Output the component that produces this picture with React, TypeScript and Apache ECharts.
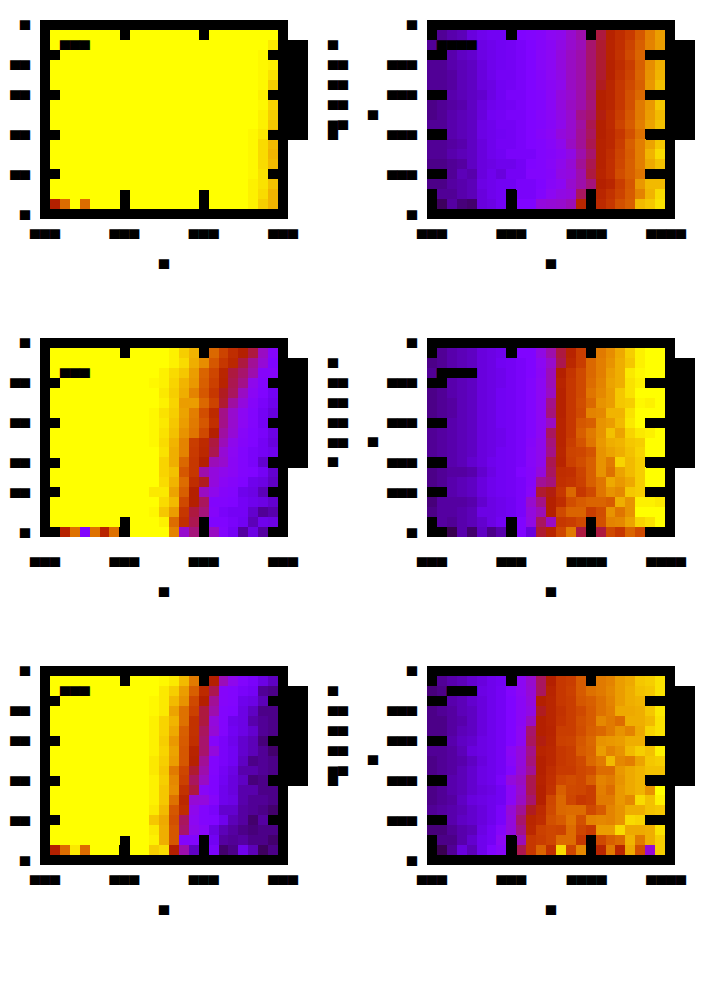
import React, { useEffect, useRef } from "react";
import * as echarts from "echarts";

const Y = 100;
// Colour scale stops (dark violet -> red -> yellow)
const scaleColors = ["#000000","#390050","#510096","#6301ce","#7202f3","#8004ff","#8c07f3","#970bce","#a11096","#ab1750","#b42000","#bd2a00","#c63700","#ce4600","#d55700","#dd6c00","#e48300","#eb9d00","#f2ba00","#f9db00","#ffff00"];

// Each panel: rows top to bottom, 24 columns left to right.
const panelA = [
[0,Y,Y,Y,Y,Y,Y,Y,Y,Y,Y,Y,Y,Y,Y,Y,Y,Y,Y,Y,Y,Y,Y,Y],
[0,Y,Y,Y,Y,Y,Y,Y,Y,Y,Y,Y,Y,Y,Y,Y,Y,Y,Y,Y,Y,Y,Y,97],
[0,Y,Y,Y,Y,Y,Y,Y,Y,Y,Y,Y,Y,Y,Y,Y,Y,Y,Y,Y,Y,Y,99,97],
[0,Y,Y,Y,Y,Y,Y,Y,Y,Y,Y,Y,Y,Y,Y,Y,Y,Y,Y,Y,Y,Y,99,98],
[0,Y,Y,Y,Y,Y,Y,Y,Y,Y,Y,Y,Y,Y,Y,Y,Y,Y,Y,Y,Y,Y,99,96],
[0,Y,Y,Y,Y,Y,Y,Y,Y,Y,Y,Y,Y,Y,Y,Y,Y,Y,Y,Y,Y,Y,99,93],
[0,Y,Y,Y,Y,Y,Y,Y,Y,Y,Y,Y,Y,Y,Y,Y,Y,Y,Y,Y,Y,Y,98,94],
[0,Y,Y,Y,Y,Y,Y,Y,Y,Y,Y,Y,Y,Y,Y,Y,Y,Y,Y,Y,Y,Y,99,94],
[0,Y,Y,Y,Y,Y,Y,Y,Y,Y,Y,Y,Y,Y,Y,Y,Y,Y,Y,Y,Y,Y,98,93],
[0,Y,Y,Y,Y,Y,Y,Y,Y,Y,Y,Y,Y,Y,Y,Y,Y,Y,Y,Y,Y,Y,98,92],
[0,Y,Y,Y,Y,Y,Y,Y,Y,Y,Y,Y,Y,Y,Y,Y,Y,Y,Y,Y,Y,99,97,90],
[0,Y,Y,Y,Y,Y,Y,Y,Y,Y,Y,Y,Y,Y,Y,Y,Y,Y,Y,Y,Y,99,95,90],
[0,Y,Y,Y,Y,Y,Y,Y,Y,Y,Y,Y,Y,Y,Y,Y,Y,Y,Y,Y,Y,99,95,89],
[0,Y,Y,Y,Y,Y,Y,Y,Y,Y,Y,Y,Y,Y,Y,Y,Y,Y,Y,Y,Y,99,95,90],
[0,Y,Y,Y,Y,Y,Y,Y,Y,Y,Y,Y,Y,Y,Y,Y,Y,Y,Y,Y,Y,99,96,91],
[0,Y,Y,Y,Y,Y,Y,Y,Y,Y,Y,Y,Y,Y,Y,Y,Y,Y,Y,Y,Y,98,96,91],
[0,Y,Y,Y,Y,Y,Y,Y,Y,Y,Y,Y,Y,Y,Y,Y,Y,Y,Y,Y,Y,98,95,89],
[0,50,75,Y,75,Y,Y,Y,Y,Y,Y,Y,Y,Y,Y,Y,Y,Y,Y,Y,Y,98,93,89],
];

const panelB = [
[0,10,12,13,17,19,20,20,0,25,26,27,30,31,35,38,0,46,51,56,61,70,79,85],
[10,10,12,13,15,18,19,20,21,23,25,27,29,32,35,37,43,47,52,57,64,72,80,85],
[0,0,12,14,15,18,19,20,21,23,25,28,30,33,36,38,43,47,52,58,66,73,0,0],
[10,10,12,13,14,17,19,20,21,23,25,28,30,33,36,38,43,47,51,56,62,72,82,88],
[10,10,11,13,14,17,19,21,21,23,25,27,30,32,36,38,43,47,51,58,64,73,83,89],
[10,10,11,13,14,17,18,20,21,23,25,27,29,31,36,38,42,48,53,60,66,72,84,91],
[0,0,12,13,14,15,18,20,23,23,25,26,29,33,35,38,43,50,53,60,68,74,0,0],
[9,10,11,12,14,17,19,20,21,23,25,26,29,33,36,38,42,50,53,60,68,78,84,92],
[9,10,12,13,14,17,20,21,23,23,25,27,29,32,35,41,43,49,55,62,70,78,85,90],
[10,10,12,13,14,18,19,21,21,23,25,26,28,31,35,39,45,50,55,64,71,79,86,91],
[0,0,12,13,14,18,19,20,21,23,25,27,29,33,35,40,44,50,54,60,68,76,0,0],
[10,10,11,12,14,17,19,21,21,23,25,26,28,31,36,40,45,51,54,62,72,79,86,92],
[10,10,12,13,14,17,19,20,23,23,23,26,27,29,32,38,43,51,56,64,71,79,89,95],
[9,9,10,11,14,17,18,19,19,21,25,26,28,31,34,40,45,51,57,65,72,79,87,91],
[0,0,10,13,12,17,19,17,21,21,26,26,27,32,33,38,46,52,57,67,72,77,0,0],
[9,9,11,12,13,18,19,20,20,23,23,25,28,30,35,38,42,50,53,62,70,84,90,90],
[0,10,10,12,13,17,19,20,0,23,23,26,30,32,33,44,0,53,58,64,71,80,89,95],
[0,6,11,8,7,17,18,20,0,25,25,33,34,35,37,53,0,55,60,68,72,90,92,96],
];

const panelC = [
[0,Y,Y,Y,Y,Y,Y,Y,Y,Y,Y,Y,Y,98,93,89,0,74,64,56,50,46,36,27],
[0,Y,Y,Y,Y,Y,Y,Y,Y,Y,Y,Y,Y,98,95,88,82,70,60,54,46,40,34,25],
[0,Y,Y,Y,Y,Y,Y,Y,Y,Y,Y,Y,98,95,92,85,73,65,53,46,43,38,27,27],
[0,Y,Y,Y,Y,Y,Y,Y,Y,Y,Y,99,98,94,89,84,72,63,52,45,41,31,26,0],
[0,Y,Y,Y,Y,Y,Y,Y,Y,Y,Y,Y,97,93,88,80,70,60,48,44,36,29,25,20],
[0,Y,Y,Y,Y,Y,Y,Y,Y,Y,Y,Y,98,94,85,85,74,64,47,39,33,27,23,19],
[0,Y,Y,Y,Y,Y,Y,Y,Y,Y,Y,99,96,93,86,79,67,55,41,35,30,26,21,17],
[0,Y,Y,Y,Y,Y,Y,Y,Y,Y,Y,99,97,92,85,78,70,57,41,35,30,26,21,0],
[0,Y,Y,Y,Y,Y,Y,Y,Y,Y,Y,99,96,91,83,77,66,50,39,34,28,25,23,18],
[0,Y,Y,Y,Y,Y,Y,Y,Y,Y,Y,99,95,89,80,62,55,46,37,31,27,25,21,17],
[0,Y,Y,Y,Y,Y,Y,Y,Y,Y,Y,Y,96,88,80,61,54,45,34,30,26,23,21,19],
[0,Y,Y,Y,Y,Y,Y,Y,Y,Y,Y,Y,94,88,74,60,50,37,35,29,26,23,15,0],
[0,Y,Y,Y,Y,Y,Y,Y,Y,Y,Y,Y,94,91,70,60,38,33,31,29,26,25,21,15],
[0,Y,Y,Y,Y,Y,Y,Y,Y,Y,Y,Y,95,89,75,56,48,33,29,27,25,19,18,14],
[0,Y,Y,Y,Y,Y,Y,Y,Y,Y,Y,97,97,86,72,50,36,31,27,26,19,18,13,0],
[0,Y,Y,Y,Y,Y,Y,Y,Y,Y,Y,Y,95,90,66,50,44,26,26,25,21,19,18,15],
[0,Y,Y,Y,Y,Y,Y,Y,Y,Y,Y,99,92,85,60,46,42,27,23,21,21,15,10,12],
[0,Y,Y,Y,Y,Y,Y,Y,Y,Y,Y,Y,98,75,57,45,0,25,25,23,20,13,19,18],
[0,0,51,76,26,76,52,76,0,Y,Y,Y,Y,80,35,42,0,36,26,21,11,18,11,0],
];

const panelD = [
[0,10,12,13,14,17,18,19,0,25,25,32,38,46,52,62,0,78,82,87,93,98,Y,Y],
[9,10,12,13,14,17,18,20,21,23,25,30,35,45,54,62,74,79,83,88,92,98,Y,Y],
[10,0,0,0,0,17,18,19,21,23,25,29,37,50,59,66,74,79,85,88,97,99,Y,Y],
[0,0,12,13,14,17,18,19,21,23,26,30,37,52,60,66,75,80,86,88,96,98,0,0],
[9,10,12,13,14,17,18,20,21,23,26,30,36,51,60,66,77,81,85,92,96,Y,Y,Y],
[9,10,11,13,14,17,18,20,21,23,26,30,41,51,60,67,74,83,85,92,93,99,98,Y],
[9,10,11,13,14,17,18,20,21,23,26,30,42,51,60,66,80,81,89,89,96,Y,Y,Y],
[0,0,12,13,14,17,18,20,21,23,26,30,36,52,60,70,72,83,85,90,97,Y,0,0],
[10,11,12,13,14,17,18,19,21,23,26,30,44,52,60,72,78,83,91,86,94,97,98,Y],
[10,11,12,13,14,17,18,19,21,23,27,31,42,52,62,69,77,84,88,89,92,93,Y,Y],
[10,11,12,13,14,17,18,20,21,23,28,31,41,53,64,65,69,83,86,88,91,94,Y,Y],
[0,0,12,13,15,17,19,20,21,23,28,31,45,52,63,67,72,83,78,94,90,93,0,0],
[9,10,11,11,12,15,18,20,21,25,27,33,44,56,57,64,72,83,76,86,90,93,Y,Y],
[9,10,12,13,14,17,19,20,21,23,27,40,42,57,59,63,72,77,87,84,87,93,Y,Y],
[0,0,12,13,14,17,19,20,21,23,28,47,49,60,74,60,66,77,83,81,92,93,0,0],
[8,11,11,11,12,15,18,19,20,23,35,41,50,56,67,71,73,73,71,88,83,98,98,97],
[9,11,11,12,13,18,18,19,20,23,33,37,50,66,73,73,62,67,83,77,83,Y,Y,Y],
[0,11,10,12,13,15,18,20,0,25,32,44,36,60,62,66,0,68,80,81,86,94,96,Y],
[0,0,5,12,7,14,9,12,0,25,17,47,52,65,78,46,0,46,66,60,73,66,0,0],
];

const panelE = [
[0,Y,Y,Y,Y,Y,Y,Y,Y,Y,Y,Y,99,97,90,78,0,50,37,31,26,23,18,14],
[0,Y,Y,Y,Y,Y,Y,Y,Y,Y,Y,Y,97,93,85,72,55,45,27,26,23,21,10,9],
[0,Y,Y,Y,Y,Y,Y,Y,Y,Y,Y,99,97,90,83,66,50,40,27,26,19,18,13,0],
[0,Y,Y,Y,Y,Y,Y,Y,Y,Y,Y,99,97,86,76,63,46,38,26,25,18,14,9,9],
[0,Y,Y,Y,Y,Y,Y,Y,Y,Y,Y,98,94,89,76,58,46,33,26,19,18,12,10,9],
[0,Y,Y,Y,Y,Y,Y,Y,Y,Y,Y,98,94,87,72,58,44,34,26,20,18,15,10,9],
[0,Y,Y,Y,Y,Y,Y,Y,Y,Y,Y,98,93,84,71,57,43,27,23,19,15,13,8,0],
[0,Y,Y,Y,Y,Y,Y,Y,Y,Y,Y,98,94,86,70,52,43,33,23,20,15,13,10,7],
[0,Y,Y,Y,Y,Y,Y,Y,Y,Y,Y,97,93,85,70,51,40,26,23,20,14,9,10,9],
[0,Y,Y,Y,Y,Y,Y,Y,Y,Y,Y,97,92,78,65,47,38,26,21,18,12,12,10,9],
[0,Y,Y,Y,Y,Y,Y,Y,Y,Y,Y,98,93,81,63,44,36,25,20,17,14,8,9,0],
[0,Y,Y,Y,Y,Y,Y,Y,Y,Y,Y,98,92,82,58,46,28,25,19,17,12,12,9,9],
[0,Y,Y,Y,Y,Y,Y,Y,Y,Y,Y,98,92,76,54,34,33,27,19,18,12,10,10,9],
[0,Y,Y,Y,Y,Y,Y,Y,Y,Y,Y,97,90,70,56,31,26,23,15,15,11,10,9,7],
[0,Y,Y,Y,Y,Y,Y,Y,Y,Y,Y,92,87,68,44,30,26,25,19,13,11,7,11,0],
[0,Y,Y,Y,Y,Y,Y,Y,Y,Y,Y,97,88,70,43,31,28,18,13,11,9,8,9,9],
[0,Y,Y,Y,Y,Y,Y,Y,Y,Y,Y,98,88,70,26,26,0,20,11,10,11,9,9,7],
[0,50,75,97,75,Y,Y,Y,0,Y,Y,93,95,50,38,14,0,23,7,9,19,13,6,9],
];

const panelF = [
[0,10,12,13,15,17,19,20,0,30,35,44,50,60,62,71,0,78,80,85,87,92,93,96],
[8,9,0,0,0,18,19,21,26,30,34,44,52,60,63,71,76,78,81,85,88,91,92,96],
[0,0,12,13,15,17,19,21,25,29,33,50,53,60,62,70,72,76,80,85,88,89,0,0],
[9,10,11,13,14,17,19,21,25,29,32,48,53,58,62,66,71,76,79,87,87,88,92,97],
[9,9,11,12,14,17,19,21,25,29,36,50,53,59,62,68,71,81,78,75,88,88,90,96],
[9,9,11,13,14,17,19,21,25,30,43,50,52,62,62,67,72,74,78,83,80,87,94,96],
[0,0,12,14,15,18,19,21,25,30,44,49,53,63,64,70,74,83,84,85,88,88,0,0],
[10,10,11,13,17,18,19,21,29,33,41,52,54,60,62,71,73,85,80,83,90,93,91,98],
[9,10,11,12,14,17,19,21,28,33,42,50,54,60,62,66,74,78,90,81,79,86,92,93],
[9,10,11,13,15,18,19,21,26,34,40,50,56,61,61,65,67,75,75,84,87,89,91,91],
[0,0,12,13,15,18,19,23,33,36,45,51,57,65,67,65,72,80,78,83,87,89,0,0],
[9,10,12,13,15,17,18,20,29,35,45,50,58,72,66,65,62,79,75,84,87,89,83,Y],
[9,10,11,14,17,18,19,20,29,36,43,50,65,74,65,60,62,78,78,84,81,95,91,98],
[10,11,12,13,15,17,19,23,34,40,48,55,66,74,75,75,66,71,80,83,88,88,91,92],
[0,0,12,14,15,17,19,23,33,43,53,56,68,71,77,68,80,81,80,83,95,94,0,0],
[8,8,10,12,13,18,21,27,33,41,54,63,65,64,75,65,61,85,85,95,87,87,88,96],
[0,9,9,12,15,19,21,30,0,37,60,62,65,75,75,60,0,66,72,75,89,78,88,93],
[0,5,10,17,13,19,25,28,0,45,60,73,57,95,65,81,0,53,78,53,87,68,34,93],
];

// Tick values on the axes (the reference labels are unreadable solid blocks)
const xTicks = [8, 16];
const yTicksOuter = [16, 12, 8, 4];
const yTicksMiddle = [15, 11, 7, 4, 0];
const xLabelValuesLeft = [0, 8, 16, 24];
const xLabelValuesRight = [0, 8, 15.6, 23.6];
const xLabelWidthsRight = [3, 3, 4, 4];
const yLabelValuesOuter = [19.4, 15.4, 12.4, 8.4, 4.4, 0.4];
const yLabelValuesMiddle = [19.4, 15.4, 11.4, 7.4, 4.4, 0.4];

const G = "▄";
const FONT = "DejaVu Sans Mono";
const FS = 16.5;
const blocks = (n: number) => G.repeat(n);
const textBase = { fontFamily: FONT, fontSize: FS, color: "#000" };

type Panel = { rows: number[][]; left: number; top: number; right: boolean; middle: boolean; note: [number, number, number]; cbarTop: number; cbarH: number; cbar: [number, string][]; yName?: number };

const cbarOuter = (t: number): [number, string][] => [[t, blocks(1)], [t + 20, blocks(2)], [t + 40, blocks(2)], [t + 60, blocks(2)], [t + 90, "█▀"]];
const cbarMid = (t: number): [number, string][] => [[t, blocks(1)], [t + 20, blocks(2)], [t + 40, blocks(2)], [t + 60, blocks(2)], [t + 80, blocks(2)], [t + 99, blocks(1)]];

const panels: Panel[] = [
  { rows: panelA, left: 40, top: 20, right: false, middle: false, note: [60, 40, 3], cbarTop: 40, cbarH: 100, cbar: cbarOuter(40) },
  { rows: panelB, left: 427, top: 20, right: true, middle: false, note: [437, 40, 4], cbarTop: 40, cbarH: 100, cbar: [], yName: 110 },
  { rows: panelC, left: 40, top: 338, right: false, middle: true, note: [60, 368, 3], cbarTop: 358, cbarH: 110, cbar: cbarMid(358) },
  { rows: panelD, left: 427, top: 338, right: true, middle: true, note: [437, 368, 4], cbarTop: 358, cbarH: 110, cbar: [], yName: 437 },
  { rows: panelE, left: 40, top: 666, right: false, middle: false, note: [60, 686, 3], cbarTop: 686, cbarH: 100, cbar: cbarOuter(686) },
  { rows: panelF, left: 427, top: 666, right: true, middle: false, note: [447, 686, 3], cbarTop: 686, cbarH: 100, cbar: [], yName: 755 },
];

const GLYPH_DY = -8; // offset from requested top to the block glyph's top

function blockText(x: number, y: number, text: string) {
  return { type: "text", x, y: y + GLYPH_DY, silent: true, z: 20, style: { text, fontFamily: FONT, fontSize: FS, fill: "#000" } };
}

export default function App() {
  const ref = useRef<HTMLDivElement>(null);
  useEffect(() => {
    const chart = echarts.init(ref.current!, undefined, { renderer: "svg", width: 706, height: 1004 });
    const grid: any[] = [], xAxis: any[] = [], yAxis: any[] = [], series: any[] = [], visualMap: any[] = [], graphic: any[] = [];
    panels.forEach((p, k) => {
      grid.push({ left: p.left, top: p.top, width: 248, height: 199 });
      const common = { type: "value", gridIndex: k, z: 10, splitLine: { show: false }, minorTick: { show: false } };
      const xc = { ...common, min: -0.5, max: 24.5 };
      const yc = { ...common, min: -0.5, max: 19.5 };
      const line = (show: boolean, cap = "butt") => ({ show, onZero: false, lineStyle: { color: "#000", width: 10, cap } });
      const tick = (length: number, customValues: number[]) => ({ show: true, inside: true, length, customValues, lineStyle: { color: "#000", width: 10 } });
      const xVals = p.right ? xLabelValuesRight : xLabelValuesLeft;
      xAxis.push({
        ...xc, position: "bottom", offset: p.middle ? 0 : -5, axisLine: line(!p.middle),
        axisTick: tick(p.middle ? 20 : 24, xTicks),
        axisLabel: { show: true, ...textBase, margin: p.middle ? 12 : 7, customValues: xVals,
          formatter: (v: number) => blocks(p.right ? xLabelWidthsRight[xVals.indexOf(v)] : 3) },
        name: G, nameLocation: "middle", nameGap: p.middle ? 42 : 37, nameTextStyle: { ...textBase },
      });
      xAxis.push({ ...xc, position: "top", offset: -5, axisLine: line(true), axisTick: tick(15, xTicks), axisLabel: { show: false } });
      const yVals = p.middle ? yLabelValuesMiddle : yLabelValuesOuter;
      const yTicks = p.middle ? yTicksMiddle : yTicksOuter;
      yAxis.push({
        ...yc, position: "left", offset: p.right ? 0 : -5, axisLine: line(!p.right),
        axisTick: tick(p.right ? 20 : 15, yTicks),
        axisLabel: { show: true, ...textBase, margin: p.right ? 10 : 15, customValues: yVals,
          formatter: (v: number) => blocks(v < 1 || v > 19 ? 1 : p.right ? 3 : 2) },
      });
      yAxis.push({ ...yc, position: "right", offset: -5, axisLine: line(true), axisTick: tick(p.right ? 24 : 15, yTicks), axisLabel: { show: false } });

      const data: number[][] = [];
      p.rows.forEach((row, idx) => row.forEach((v, j) => data.push([j, 18 - idx, v])));
      series.push({
        type: "custom", coordinateSystem: "cartesian2d", xAxisIndex: 2 * k, yAxisIndex: 2 * k, z: 2, silent: true,
        encode: { x: 0, y: 1 }, data,
        renderItem: (_: any, api: any) => {
          const a = api.coord([api.value(0) - 0.5, api.value(1) + 0.5]);
          const b = api.coord([api.value(0) + 0.5, api.value(1) - 0.5]);
          const x = Math.round(a[0]), y = Math.round(a[1]);
          return { type: "rect", shape: { x, y, width: Math.round(b[0]) - x, height: Math.round(b[1]) - y }, style: { fill: api.visual("color") } };
        },
      });
      visualMap.push({
        type: "continuous", seriesIndex: k, dimension: 2, min: 0, max: 100, show: false, calculable: false,
        inRange: { color: scaleColors },
      });
      // colour bar, solid black in the reference
      graphic.push({ type: "rect", silent: true, z: 15, shape: { x: p.left + 248, y: p.cbarTop, width: 20, height: p.cbarH }, style: { fill: "#000" } });
      graphic.push(blockText(p.note[0], p.note[1], blocks(p.note[2])));
      p.cbar.forEach(([y, t]) => graphic.push(blockText(328, y, t)));
      if (p.yName !== undefined) graphic.push(blockText(368, p.yName, G));
    });
    chart.setOption({ animation: false, backgroundColor: "#fff", grid, xAxis, yAxis, series, visualMap, graphic });
    return () => chart.dispose();
  }, []);
  return <div ref={ref} style={{ position: "absolute", left: 0, top: 0, width: 706, height: 1004 }} />;
}
